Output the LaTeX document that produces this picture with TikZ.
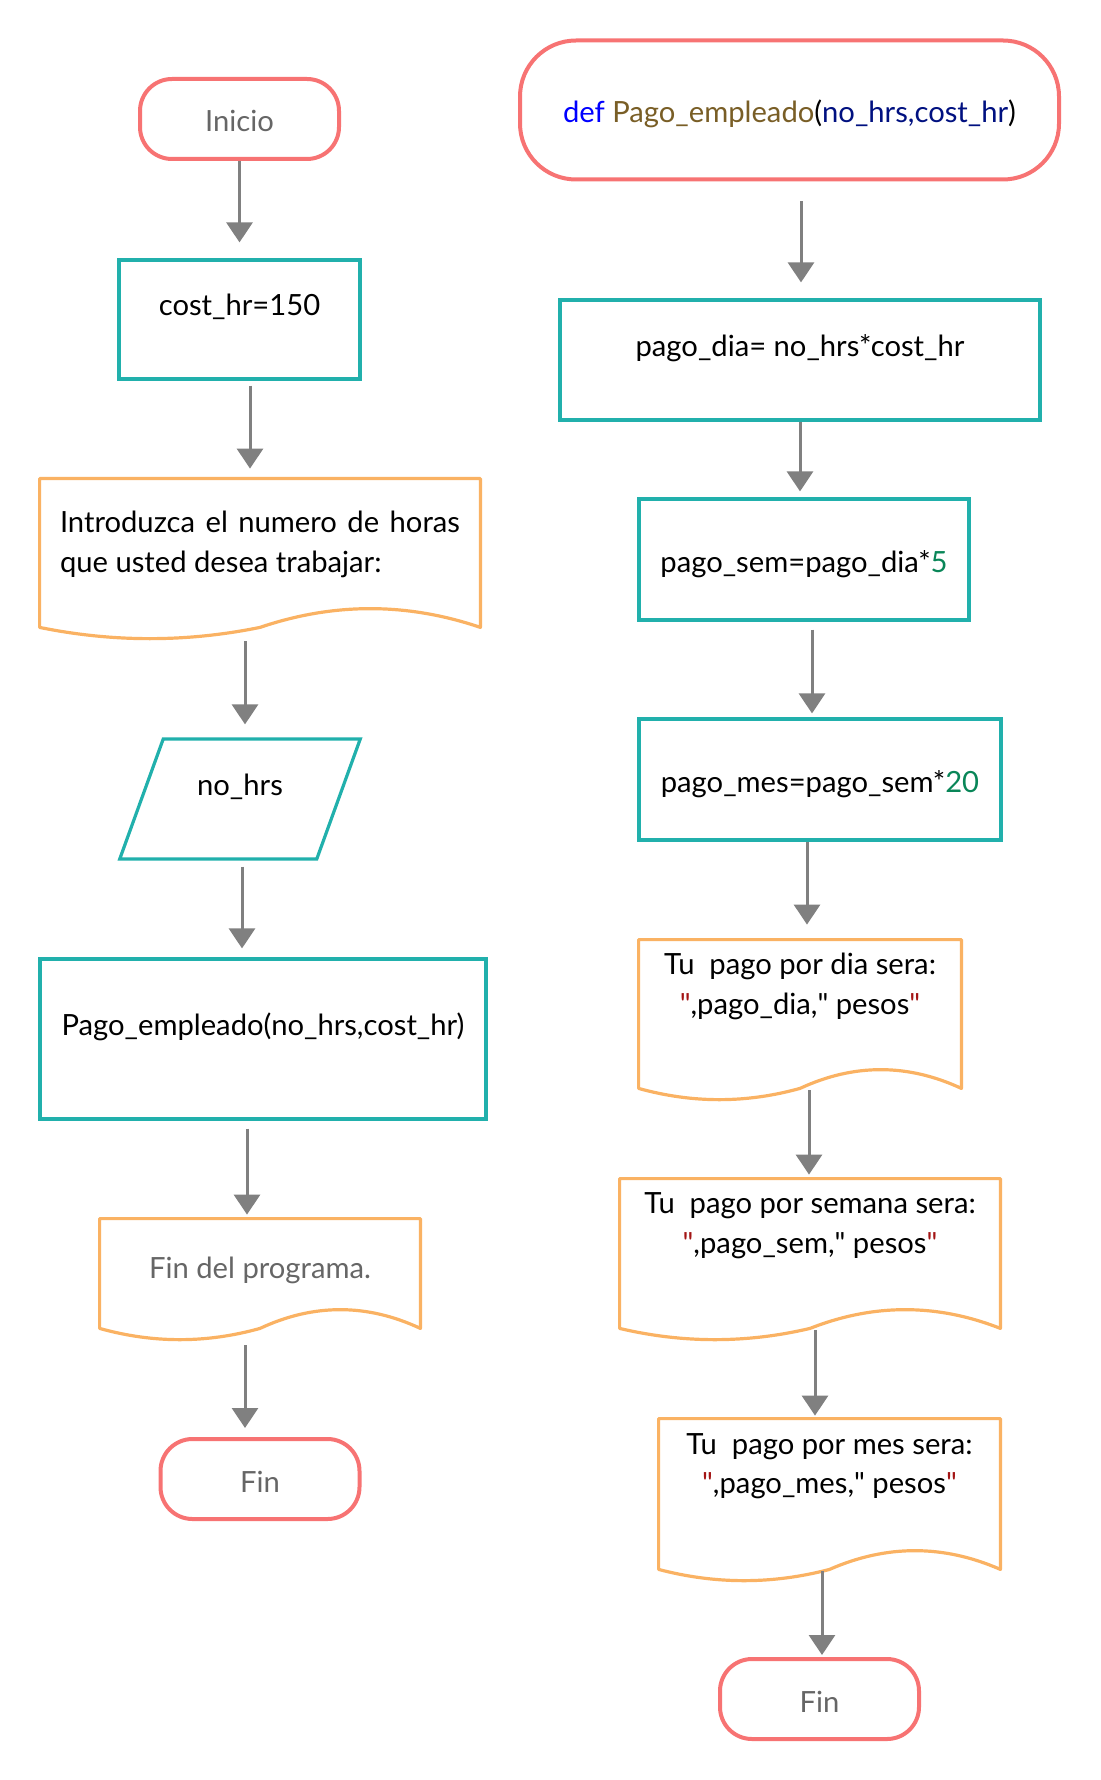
\documentclass[tikz,border=0pt]{standalone}
\usepackage{fontspec}
\setmainfont{Lato}
\usetikzlibrary{shapes.geometric,arrows.meta,calc}

\definecolor{termred}{RGB}{247,115,115}
\definecolor{procteal}{RGB}{33,176,172}
\definecolor{docorange}{RGB}{250,178,99}
\definecolor{flowgray}{RGB}{128,128,128}
\definecolor{txtgray}{RGB}{102,102,102}
\definecolor{kwblue}{RGB}{0,0,255}
\definecolor{fnbrown}{RGB}{121,94,38}
\definecolor{varnavy}{RGB}{0,16,128}
\definecolor{numgreen}{RGB}{9,134,88}
\definecolor{strred}{RGB}{163,21,21}

% struts: one line of text, and a deeper one that lifts the text
\newcommand{\lnstrut}{\rule[-3.5pt]{0pt}{20pt}}
\newcommand{\dropstrut}[1]{\rule[-#1]{0pt}{#1}}
\newcommand{\qq}{\textquotedbl}

\tikzset{
  term/.style={draw=termred, line width=2pt, rounded corners=16pt, minimum width=99.5pt, minimum height=40pt, text=txtgray},
  proc/.style={draw=procteal, line width=1.6pt, align=center},
  inout/.style={trapezium, trapezium left angle=71.6, trapezium right angle=108.4, trapezium stretches=true, draw=procteal, line width=1.6pt, align=center},
  docbox/.style={align=center},
  docline/.style={draw=docorange, line width=1.6pt, line join=round},
  lifted/.style={execute at end node={\lnstrut\dropstrut{20pt}}},
  docup/.style={execute at end node={\lnstrut\dropstrut{22.5pt}}},
  flow/.style={draw=flowgray, line width=1.5pt, shorten >=4pt, -{Triangle[width=13pt,length=10pt]}},
}

% outline of a document shape round a node
\newcommand{\docshape}[1]{%
  \draw[docline] ($(#1.south west)+(0,16)$) -- (#1.north west) -- (#1.north east) -- ($(#1.south east)+(0,16)$)
    .. controls ($(#1.south east)!0.167!(#1.south west)+(0,-9)$) and ($(#1.south east)!0.333!(#1.south west)+(0,-9)$) .. ($(#1.south)+(0,16)$)
    .. controls ($(#1.south east)!0.667!(#1.south west)+(0,31)$) and ($(#1.south east)!0.833!(#1.south west)+(0,31)$) .. ($(#1.south west)+(0,16)$) -- cycle;}

\begin{document}
\begin{tikzpicture}[x=0.5pt, y=-0.5pt, every node/.style={font=\fontsize{14.6}{19.75}\selectfont, inner sep=0pt,
		execute at begin node=\lnstrut, execute at end node=\lnstrut}]
	\useasboundingbox (0,0) rectangle (1101,1780);

	% Programa principal
	\node[term] (ini) at (239.5,119) {Inicio};
	\node[proc, lifted, minimum width=120.5pt, minimum height=59.5pt] (cost) at (239.5,319.5) {cost\_hr=150};
	\node[docbox, align=left, minimum width=220pt, minimum height=66pt] (ask) at (260,545)
		{\makebox[200pt][s]{Introduzca el numero de horas}\\que usted desea trabajar:};
	\node[inout, lifted, minimum width=121pt, minimum height=60pt] (hrs) at (240,799) {no\_hrs};
	\node[proc, lifted, minimum width=223pt, minimum height=80pt] (call) at (263,1039) {Pago\_empleado(no\_hrs,cost\_hr)};
	\node[docbox, text=txtgray, minimum width=160pt, minimum height=46.5pt] (bye) at (260,1265.5) {Fin del programa.};
	\node[term] (fin) at (260,1479) {Fin};

	% Funcion
	\node[term, text=black, rounded corners=28pt, minimum width=269.5pt, minimum height=69.5pt] (def) at (789.5,110)
		{\textcolor{kwblue}{def} \textcolor{fnbrown}{Pago\_empleado}(\textcolor{varnavy}{no\_hrs,cost\_hr})};
	\node[proc, lifted, minimum width=240pt, minimum height=60pt] (dia) at (800,360) {pago\_dia= no\_hrs*cost\_hr};
	\node[proc, minimum width=165pt, minimum height=60.5pt] (sem) at (804,559.5) {pago\_sem=pago\_dia*\textcolor{numgreen}{5}};
	\node[proc, minimum width=181pt, minimum height=60.5pt] (mes) at (820,779.5) {pago\_mes=pago\_sem*\textcolor{numgreen}{20}};
	\node[docbox, docup, minimum width=161pt, minimum height=66pt] (outdia) at (800,1006)
		{Tu\ \ pago por dia sera:\\\textcolor{strred}{\qq},pago\_dia,\qq{} pesos\textcolor{strred}{\qq}};
	\node[docbox, docup, minimum width=190pt, minimum height=66.5pt] (outsem) at (810,1245.5)
		{Tu\ \ pago por semana sera:\\\textcolor{strred}{\qq},pago\_sem,\qq{} pesos\textcolor{strred}{\qq}};
	\node[docbox, docup, minimum width=170.5pt, minimum height=67pt] (outmes) at (829.5,1486)
		{Tu\ \ pago por mes sera:\\\textcolor{strred}{\qq},pago\_mes,\qq{} pesos\textcolor{strred}{\qq}};
	\node[term] (fin2) at (819.5,1699) {Fin};

	% Documentos
	\docshape{ask}
	\docshape{bye}
	\docshape{outdia}
	\docshape{outsem}
	\docshape{outmes}

	% Flechas
	\draw[flow, shorten >=8pt] (ini.south) -- (cost.north);
	\draw[flow, shorten <=2.5pt, shorten >=5pt] (cost.south -| 250,0) -- (ask.north -| 250,0);
	\draw[flow, shorten >=6.5pt] (ask.south -| 245,0) ++(0,30) -- (hrs.north -| 245,0);
	\draw[flow, shorten <=3pt, shorten >=4.5pt] (hrs.south -| 242,0) -- (call.north -| 242,0);
	\draw[flow, shorten <=4pt, shorten >=2pt] (call.south -| 247,0) -- (bye.north -| 247,0);
	\draw[flow, shorten >=4.5pt] (bye.south -| 245,0) ++(0,33) -- (fin.north -| 245,0);

	\draw[flow, shorten <=10pt, shorten >=8pt] (def.south -| 801,0) -- (dia.north -| 801,0);
	\draw[flow, shorten >=3pt] (dia.south) -- (sem.north -| dia.south);
	\draw[flow, shorten <=4pt, shorten >=2pt] (sem.south -| 812,0) -- (mes.north -| 812,0);
	\draw[flow, shorten >=7.5pt] (mes.south -| 807,0) -- (outdia.north -| 807,0);
	\draw[flow, shorten >=2pt] (outdia.south -| 809,0) ++(0,18) -- (outsem.north -| 809,0);
	\draw[flow, shorten >=1.5pt] (outsem.south -| 815,0) ++(0,18) -- (outmes.north -| 815,0);
	\draw[flow, shorten >=1pt] (outmes.south -| 822,0) ++(0,18) -- (fin2.north -| 822,0);
\end{tikzpicture}
\end{document}
